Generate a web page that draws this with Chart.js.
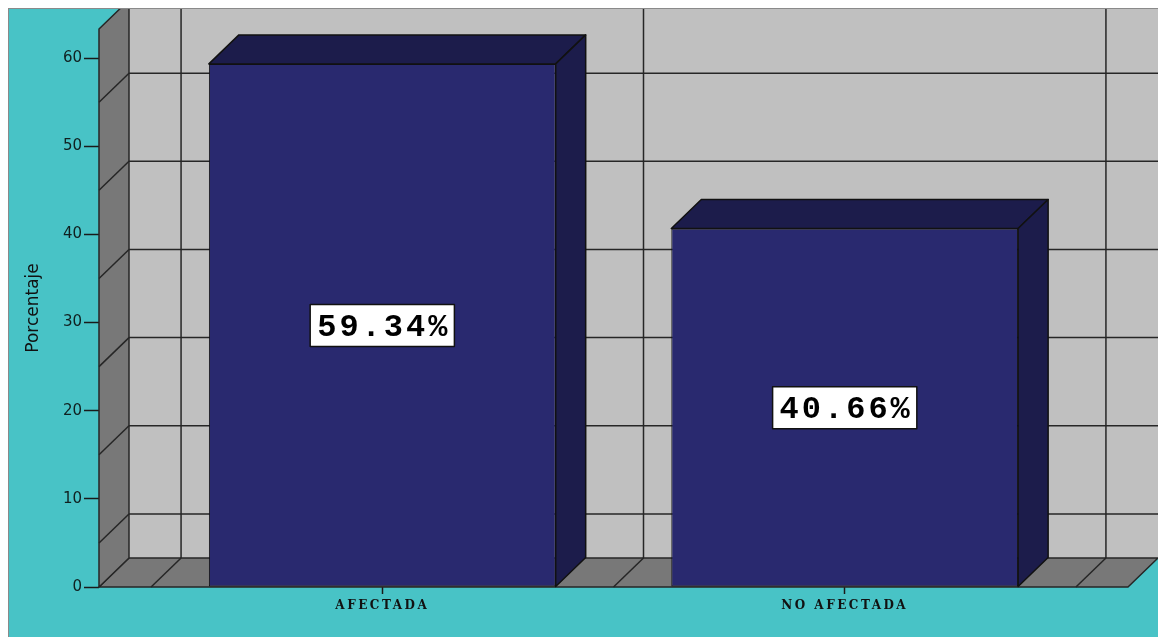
<!DOCTYPE html>
<html>
<head>
<meta charset="utf-8">
<script src="https://cdn.jsdelivr.net/npm/chart.js@4.4.0/dist/chart.umd.min.js"></script>
<style>
  html, body { margin: 0; padding: 0; background: #fff; }
  canvas { display: block; }
</style>
</head>
<body>
<canvas id="chart" width="1158" height="637"></canvas>
<script>
// data
const categories = ['AFECTADA', 'NO AFECTADA'];
const percentages = [59.34, 40.66];
const tickValues = [0, 10, 20, 30, 40, 50, 60];

const yMax = 63.3;
const DX = 30, DY = 29;   // depth of the 3D box
const colors = {
    teal: '#48c3c6',
    wall: '#787878',
    back: '#c0c0c0',
    line: '#262626',
    bar: '#29296f',
    barDark: '#1c1c4b'
};

const scene3d = {
    id: 'scene3d',
    beforeDraw(chart) {
        const ctx = chart.ctx;
        ctx.save();
        ctx.fillStyle = '#fff';
        ctx.fillRect(0, 0, chart.width, chart.height);
        ctx.fillStyle = colors.teal;
        ctx.fillRect(8, 8, chart.width - 8, chart.height - 8);
        ctx.strokeStyle = '#8a8a8a';
        ctx.lineWidth = 1;
        ctx.strokeRect(8.5, 8.5, chart.width, chart.height);
        ctx.restore();
    },
    beforeDatasetsDraw(chart) {
        const {ctx, chartArea: a, scales: {x, y}} = chart;
        const line = (x1, y1, x2, y2) => {
            ctx.beginPath(); ctx.moveTo(x1, y1); ctx.lineTo(x2, y2); ctx.stroke();
        };
        const poly = (pts, fill) => {
            ctx.beginPath();
            pts.forEach((p, i) => i ? ctx.lineTo(p[0], p[1]) : ctx.moveTo(p[0], p[1]));
            ctx.closePath();
            ctx.fillStyle = fill; ctx.fill(); ctx.stroke();
        };
        ctx.save();
        ctx.beginPath();
        ctx.rect(9, 9, chart.width - 9, chart.height - 9);
        ctx.clip();
        ctx.lineWidth = 1.5;
        ctx.strokeStyle = colors.line;
        ctx.lineJoin = 'round';

        // back wall
        ctx.fillStyle = colors.back;
        ctx.fillRect(a.left + DX, a.top - DY, a.right - a.left, a.bottom - a.top);
        const step = tickValues[1] - tickValues[0];
        const mids = tickValues.map(v => v + step / 2).filter(v => v < y.max);
        mids.forEach(v => {
            const py = y.getPixelForValue(v) - DY;
            line(a.left + DX, py, a.right + DX, py);
        });
        const bounds = categories.map((c, i) => i - 0.5).concat(categories.length - 0.5);
        bounds.forEach(b => {
            const px = x.getPixelForValue(b) + DX;
            line(px, a.top - DY, px, a.bottom - DY);
        });

        // floor
        poly([[a.left, a.bottom], [a.right, a.bottom], [a.right + DX, a.bottom - DY], [a.left + DX, a.bottom - DY]], colors.wall);
        bounds.forEach(b => {
            const px = x.getPixelForValue(b);
            line(px, a.bottom, px + DX, a.bottom - DY);
        });

        // left wall
        poly([[a.left, a.bottom], [a.left + DX, a.bottom - DY], [a.left + DX, a.top - DY], [a.left, a.top]], colors.wall);
        mids.forEach(v => {
            const py = y.getPixelForValue(v);
            line(a.left, py, a.left + DX, py - DY);
        });
        ctx.restore();
    },
    afterDatasetsDraw(chart) {
        const {ctx, scales: {y}} = chart;
        const meta = chart.getDatasetMeta(0);
        ctx.save();
        ctx.lineWidth = 1.5;
        ctx.strokeStyle = '#111';
        ctx.lineJoin = 'round';
        meta.data.forEach((el, i) => {
            const {x, y: top, base, width} = el.getProps(['x', 'y', 'base', 'width'], true);
            const l = x - width / 2, r = x + width / 2;
            ctx.fillStyle = colors.barDark;
            // top face
            ctx.beginPath();
            ctx.moveTo(l, top); ctx.lineTo(l + DX, top - DY); ctx.lineTo(r + DX, top - DY); ctx.lineTo(r, top);
            ctx.closePath(); ctx.fill(); ctx.stroke();
            // side face
            ctx.beginPath();
            ctx.moveTo(r, top); ctx.lineTo(r + DX, top - DY); ctx.lineTo(r + DX, base - DY); ctx.lineTo(r, base);
            ctx.closePath(); ctx.fill(); ctx.stroke();
        });

        // value boxes
        ctx.font = 'bold 32px "Liberation Mono", "DejaVu Sans Mono", monospace';
        ctx.letterSpacing = '3px';
        ctx.textBaseline = 'middle';
        ctx.textAlign = 'left';
        meta.data.forEach((el, i) => {
            const v = percentages[i];
            const text = v.toFixed(2) + '%';
            const cx = el.x;
            const cy = y.getPixelForValue(v / 2);
            const w = ctx.measureText(text).width - 3;
            const bw = w + 14, bh = 42;
            ctx.fillStyle = '#fff';
            ctx.fillRect(cx - bw / 2, cy - bh / 2, bw, bh);
            ctx.lineWidth = 1.5;
            ctx.strokeStyle = '#111';
            ctx.strokeRect(cx - bw / 2, cy - bh / 2, bw, bh);
            ctx.fillStyle = '#000';
            ctx.fillText(text, cx - w / 2, cy + 2);
        });
        ctx.restore();
        // spacing for the category labels drawn right after this
        ctx.letterSpacing = '2.5px';
    },
    afterDraw(chart) {
        chart.ctx.letterSpacing = '0px';
    }
};

new Chart(document.getElementById('chart'), {
    type: 'bar',
    data: {
        datasets: [{
            data: categories.map((c, i) => ({x: i, y: percentages[i]})),
            backgroundColor: colors.bar,
            borderColor: '#111',
            borderWidth: 1,
            borderSkipped: false,
            categoryPercentage: 1,
            barPercentage: 0.75
        }]
    },
    options: {
        responsive: false,
        animation: false,
        layout: { padding: { top: 29, right: 30, left: 0, bottom: 0 } },
        plugins: { legend: { display: false }, tooltip: { enabled: false } },
        scales: {
            x: {
                type: 'linear',
                offset: false,
                min: -0.6126,
                max: 1.6126,
                afterFit: s => { s.height = 50; },
                afterBuildTicks: s => { s.ticks = categories.map((c, i) => ({value: i})); },
                border: { display: false },
                grid: { offset: false, drawOnChartArea: false, drawTicks: true, tickLength: 7, tickColor: '#1a1a1a', tickWidth: 1.5 },
                ticks: {
                    z: 1,
                    padding: 5,
                    maxRotation: 0,
                    autoSkip: false,
                    color: '#111',
                    font: { family: '"DejaVu Serif"', size: 12, weight: 'bold' },
                    callback: v => categories[v]
                }
            },
            y: {
                min: 0,
                max: yMax,
                afterFit: s => { s.width = 99; },
                afterBuildTicks: s => { s.ticks = tickValues.map(v => ({value: v})); },
                border: { display: false },
                grid: { drawOnChartArea: false, drawTicks: true, tickLength: 15, tickColor: '#1a1a1a', tickWidth: 1.5 },
                ticks: {
                    padding: 2,
                    color: '#102020',
                    font: { family: '"DejaVu Sans"', size: 15 }
                },
                title: {
                    display: true,
                    text: 'Porcentaje',
                    color: '#111',
                    padding: { top: 23, bottom: 0 },
                    font: { family: '"DejaVu Sans"', size: 17 }
                }
            }
        }
    },
    plugins: [scene3d]
});
</script>
</body>
</html>
